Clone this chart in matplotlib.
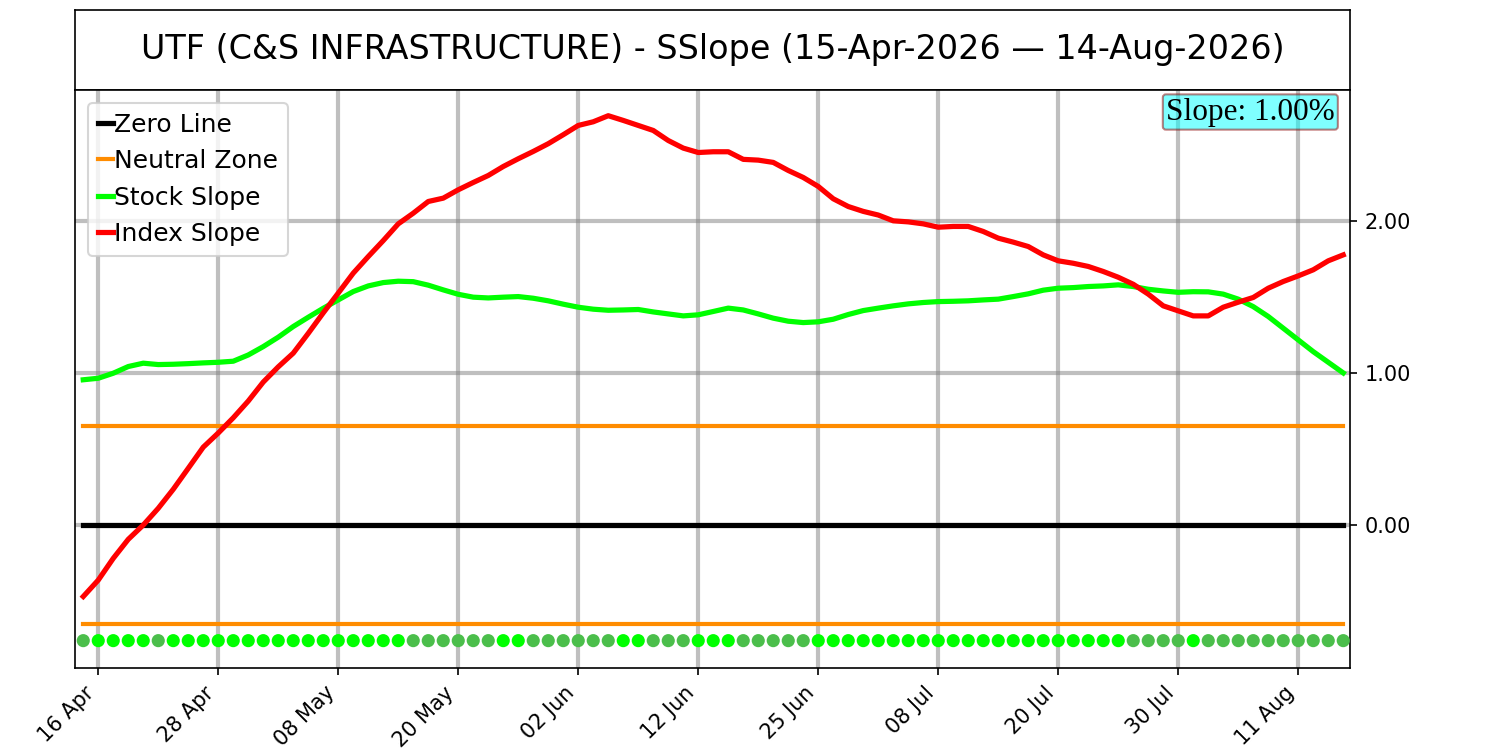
import numpy as np
import pandas as pd
import matplotlib
matplotlib.use("Agg")
import matplotlib.pyplot as plt
from matplotlib.ticker import MultipleLocator, FormatStrFormatter

# trading days, US holidays skipped
holidays = ["2026-05-25", "2026-06-19", "2026-07-03"]
dates = pd.bdate_range("2026-04-15", "2026-08-14", freq="C", holidays=holidays)

stock_slope = [
    0.955, 0.965, 0.998, 1.042, 1.064, 1.055, 1.057, 1.061, 1.066, 1.070,
    1.077, 1.118, 1.173, 1.235, 1.305, 1.366, 1.425, 1.480, 1.535, 1.572,
    1.594, 1.603, 1.600, 1.577, 1.546, 1.517, 1.498, 1.493, 1.498, 1.502,
    1.491, 1.474, 1.452, 1.432, 1.419, 1.412, 1.414, 1.417, 1.401, 1.388,
    1.375, 1.382, 1.404, 1.426, 1.414, 1.388, 1.360, 1.340, 1.331, 1.336,
    1.353, 1.384, 1.410, 1.426, 1.441, 1.454, 1.463, 1.469, 1.471, 1.474,
    1.480, 1.485, 1.502, 1.520, 1.544, 1.557, 1.561, 1.568, 1.572, 1.579,
    1.568, 1.550, 1.539, 1.530, 1.534, 1.533, 1.518, 1.485, 1.436, 1.371,
    1.294, 1.217, 1.140, 1.070, 1.000,
]

index_slope = [
    -0.470, -0.362, -0.219, -0.094, 0.000, 0.110, 0.235, 0.373, 0.512, 0.605,
    0.705, 0.815, 0.940, 1.040, 1.130, 1.260, 1.395, 1.525, 1.656, 1.765,
    1.870, 1.980, 2.050, 2.127, 2.149, 2.204, 2.252, 2.298, 2.357, 2.408,
    2.456, 2.507, 2.566, 2.627, 2.651, 2.691, 2.660, 2.627, 2.594, 2.528,
    2.478, 2.449, 2.454, 2.454, 2.404, 2.399, 2.384, 2.331, 2.285, 2.226,
    2.145, 2.094, 2.062, 2.038, 2.000, 1.993, 1.980, 1.958, 1.963, 1.963,
    1.930, 1.886, 1.860, 1.831, 1.776, 1.737, 1.721, 1.700, 1.667, 1.629,
    1.583, 1.518, 1.441, 1.408, 1.375, 1.375, 1.432, 1.465, 1.496, 1.557,
    1.601, 1.638, 1.678, 1.737, 1.776,
]

neutral_band = 0.65
dot_level = -0.76
slope_pct = 1.00
ticker = "UTF"
name = "C&S INFRASTRUCTURE"

x = np.arange(len(dates))
stock = np.array(stock_slope)
index = np.array(index_slope)

# dot colour: bright when the stock slope is rising
rising = np.concatenate([[False], np.diff(stock) > 0])
dot_colors = np.where(rising, "#00ff00", "#4bbe4b")

fig = plt.figure(figsize=(10, 5), dpi=150)
ax_t = fig.add_axes([0.05, 0.88, 0.85, 0.1067])
ax = fig.add_axes([0.05, 0.1093, 0.85, 0.7707])

ax_t.set_xticks([])
ax_t.set_yticks([])
ax_t.text(0.5, 0.5, f"{ticker} ({name}) - SSlope ({dates[0]:%d-%b-%Y} \u2014 {dates[-1]:%d-%b-%Y})",
          ha="center", va="center", fontsize=16, transform=ax_t.transAxes)

ax.plot(x, np.zeros(len(x)), color="black", lw=2.5, label="Zero Line")
ax.plot(x, np.full(len(x), neutral_band), color="darkorange", lw=2, label="Neutral Zone")
ax.plot(x, np.full(len(x), -neutral_band), color="darkorange", lw=2)
ax.plot(x, stock, color="#00ff00", lw=2.5, label="Stock Slope")
ax.plot(x, index, color="red", lw=2.5, label="Index Slope")
ax.scatter(x, np.full(len(x), dot_level), c=dot_colors, s=28, zorder=3)

ax.set_xlim(-0.55, 84.45)
ax.set_ylim(-0.94, 2.86)
ax.yaxis.tick_right()
ax.yaxis.set_major_locator(MultipleLocator(1))
ax.yaxis.set_major_formatter(FormatStrFormatter("%.2f"))
ticks = x[1::8]
ax.set_xticks(ticks)
ax.set_xticklabels([dates[i].strftime("%d %b") for i in ticks], rotation=45, ha="right")
ax.grid(True, color="gray", alpha=0.5, lw=2)

ax.legend(loc="upper left", fontsize=12, handlelength=0.6, handletextpad=0.05)

ax.text(0.988, 0.987, f"Slope: {slope_pct:.2f}%", transform=ax.transAxes, ha="right", va="top",
        fontsize=15, family=["Liberation Serif", "DejaVu Serif"],
        bbox=dict(boxstyle="round,pad=0.1", facecolor="cyan", edgecolor="darkred", alpha=0.5))

fig.savefig("out.png")
